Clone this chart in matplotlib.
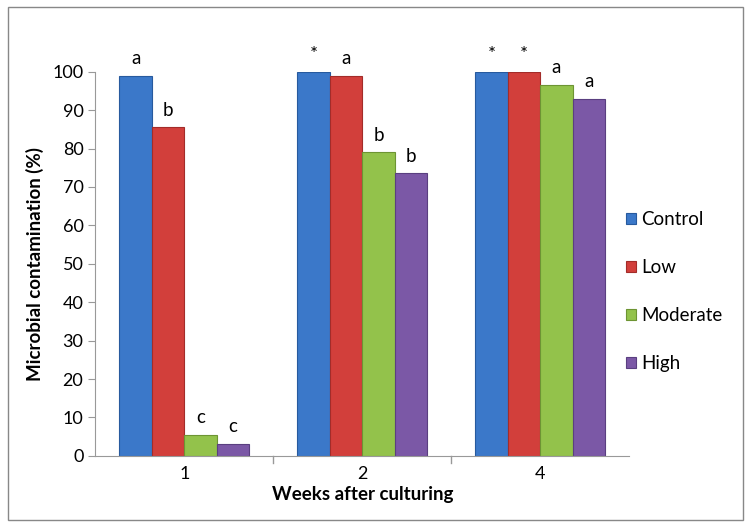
import numpy as np
import matplotlib.pyplot as plt
from matplotlib.patches import Rectangle

plt.rcParams['font.family'] = ['Lato', 'DejaVu Sans']

# données
weeks = ['1', '2', '4']
series = ['Control', 'Low', 'Moderate', 'High']
control = [99, 100, 100]
low = [85.5, 99, 100]
moderate = [5.5, 79, 96.5]
high = [3, 73.5, 93]
letters = [['a', '*', '*'], ['b', 'a', '*'], ['c', 'b', 'a'], ['c', 'b', 'a']]

colors = ['#3b78c9', '#d23f3b', '#93c24b', '#7b58a6']
edges = ['#275a9e', '#a32c29', '#6d9433', '#5a3f80']

fig = plt.figure(figsize=(7.5, 5.27), dpi=100)
ax = fig.add_axes([0.127, 0.135, 0.712, 0.729])

x = np.arange(len(weeks))
w = 0.182
values = [control, low, moderate, high]
for i, (vals, name) in enumerate(zip(values, series)):
    pos = x + (i - 1.5) * w
    ax.bar(pos, vals, w, color=colors[i], edgecolor=edges[i], linewidth=0.8, label=name)
    for p, v, t in zip(pos, vals, letters[i]):
        ax.text(p, v + 2.3, t, ha='center', va='bottom', fontsize=13.5)

ax.set_xlim(-0.5, 2.5)
ax.set_ylim(0, 100)
ax.set_yticks(range(0, 101, 10))
ax.tick_params(axis='y', labelsize=13, color='#999999', length=5)
ax.set_xticks(x)
ax.set_xticklabels(weeks, fontsize=13)
ax.tick_params(axis='x', length=0, pad=7)
# petites marques entre les groupes
for b in [0.5, 1.5]:
    ax.plot([b, b], [0, -1.8], color='#999999', lw=1, clip_on=False)

for s in ['top', 'right']:
    ax.spines[s].set_visible(False)
ax.spines['left'].set_color('#999999')
ax.spines['bottom'].set_color('#999999')

ax.set_ylabel('Microbial contamination (%)', fontsize=13.5, fontweight='bold', labelpad=6)
ax.set_xlabel('Weeks after culturing', fontsize=13.5, fontweight='bold', labelpad=3)

ax.legend(loc='center left', bbox_to_anchor=(0.962, 0.428), frameon=False, fontsize=13.5,
          handlelength=0.55, handleheight=0.55, handletextpad=0.25, labelspacing=1.65)

# cadre extérieur
fig.patches.append(Rectangle((0.01, 0.013), 0.98, 0.974, transform=fig.transFigure,
                             fill=False, edgecolor='#888888', lw=1))

fig.savefig('out.png', dpi=100)
